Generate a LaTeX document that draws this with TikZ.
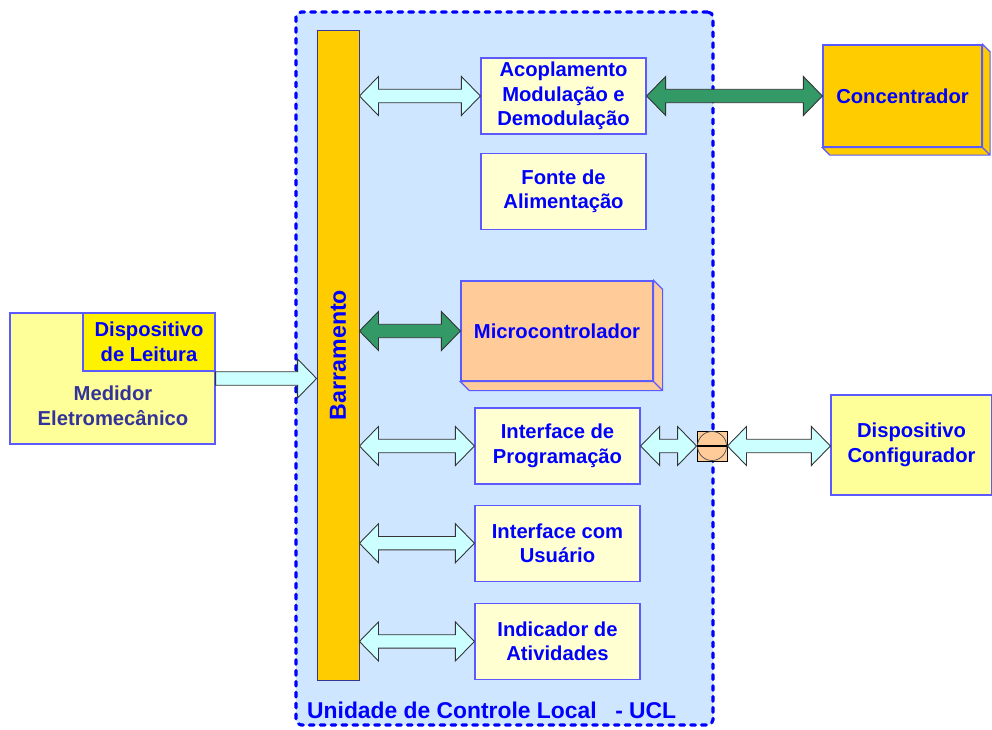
\documentclass[tikz,border=0pt]{standalone}
\usepackage{fontspec}
\setmainfont{Liberation Sans}
\usetikzlibrary{positioning, calc}

\definecolor{uclblue}{RGB}{206,230,255}
\definecolor{edgeblue}{RGB}{90,90,255}
\definecolor{busorange}{RGB}{255,204,0}
\definecolor{boxyellow}{RGB}{255,255,210}
\definecolor{peach}{RGB}{255,204,153}
\definecolor{paleyellow}{RGB}{255,255,153}
\definecolor{lightcyan}{RGB}{204,255,255}
\definecolor{darkgreen}{RGB}{51,153,102}
\definecolor{navytext}{RGB}{51,51,153}

\begin{document}
\begin{tikzpicture}[
	font=\fontsize{11.5}{14}\selectfont\bfseries,
	box/.style={draw=edgeblue, line width=0.7pt, fill=boxyellow, text=blue, align=center,
		minimum width=3.3cm, minimum height=1.52cm, inner sep=0pt},
	ucl/.style={draw=blue, fill=uclblue, line width=1.8pt, line cap=round,
		dash pattern=on 2.7pt off 3.5pt, rounded corners=3pt},
	dbl/.style={draw=black!80, fill=#1, line width=0.5pt, to path={
		let \p1=(\tikztostart), \p2=(\tikztotarget) in
		(\x1,\y1) -- (\x1+0.38cm,\y1+0.39cm) -- (\x1+0.38cm,\y1+0.134cm)
		-- (\x2-0.38cm,\y1+0.134cm) -- (\x2-0.38cm,\y1+0.39cm) -- (\x2,\y1)
		-- (\x2-0.38cm,\y1-0.39cm) -- (\x2-0.38cm,\y1-0.134cm)
		-- (\x1+0.38cm,\y1-0.134cm) -- (\x1+0.38cm,\y1-0.39cm) -- cycle}},
	sgl/.style={draw=black!80, fill=#1, line width=0.5pt, to path={
		let \p1=(\tikztostart), \p2=(\tikztotarget) in
		(\x1,\y1+0.134cm) -- (\x2-0.38cm,\y1+0.134cm) -- (\x2-0.38cm,\y1+0.39cm) -- (\x2,\y1)
		-- (\x2-0.38cm,\y1-0.39cm) -- (\x2-0.38cm,\y1-0.134cm) -- (\x1,\y1-0.134cm) -- cycle}},
]
	\useasboundingbox (0,0) rectangle (19.84,-14.58);

	% local control unit
	\node (UCL) [ucl, minimum width=8.34cm, minimum height=14.26cm] at (10.09,-7.37) {};
	\node (UCLtxt) [text=blue, font=\fontsize{13}{15}\selectfont\bfseries, anchor=base west]
		at (6.02,-14.36) {Unidade de Controle Local\hspace{7pt} - UCL};

	\node (Bus) [draw=edgeblue!60!black, line width=0.5pt, fill=busorange,
		minimum width=0.84cm, minimum height=13cm] at (6.76,-7.10) {};
	\node (BusTxt) [rotate=90, text=blue, font=\fontsize{13.2}{15}\selectfont\bfseries] at (Bus) {Barramento};

	\node (Acop) [box] at (11.27,-1.92) {Acoplamento\\Modulação e\\Demodulação};
	\node (Fonte) [box, below=0.36cm of Acop] {Fonte de\\Alimentação};
	\node (Micro) [box, fill=peach, minimum width=3.84cm, minimum height=2cm] at (11.14,-6.62) {Microcontrolador};
	\node (Prog) [box] at (11.15,-8.92) {Interface de\\Programação};
	\node (Usu) [box, below=0.40cm of Prog] {Interface com\\Usuário};
	\node (Ativ) [box, below=0.42cm of Usu] {Indicador de\\Atividades};

	% outside devices
	\node (Conc) [box, fill=busorange, minimum width=3.18cm, minimum height=2.04cm] at (18.05,-1.92) {Concentrador};
	\node (Conf) [box, fill=paleyellow, minimum width=3.22cm, minimum height=2cm] at (18.23,-8.90) {Dispositivo\\Configurador};
	\node (Med) [box, fill=paleyellow, minimum width=4.1cm, minimum height=2.62cm] at (2.25,-7.57) {};
	\node (MedTxt) [text=navytext, align=center] at (2.26,-8.12) {Medidor\\Eletromecânico};
	\node (Leit) [box, fill=yellow, minimum width=2.64cm, minimum height=1.16cm, anchor=north east]
		at (Med.north east) {Dispositivo\\de Leitura};

	% depth of the 3d boxes
	\draw[draw=edgeblue, line width=0.7pt, fill=peach] (Micro.north east) -- ++(0.18,-0.18)
		-- ([shift={(0.18,-0.18)}]Micro.south east) -- ([shift={(0.18,-0.18)}]Micro.south west)
		-- (Micro.south west) -- (Micro.south east) -- cycle (Micro.south east) -- ++(0.18,-0.18);
	\draw[draw=edgeblue, line width=0.7pt, fill=busorange] (Conc.north east) -- ++(0.15,-0.15)
		-- ([shift={(0.15,-0.15)}]Conc.south east) -- ([shift={(0.15,-0.15)}]Conc.south west)
		-- (Conc.south west) -- (Conc.south east) -- cycle (Conc.south east) -- ++(0.15,-0.15);

	% connectors
	\draw[dbl=lightcyan] (Bus.east |- Acop.west) to (Acop.west);
	\draw[dbl=darkgreen] (Acop.east) to (Conc.west);
	\draw[dbl=darkgreen] (Bus.east |- Micro.west) to (Micro.west);
	\draw[dbl=lightcyan] (Bus.east |- Prog.west) to (Prog.west);
	\draw[dbl=lightcyan] (Bus.east |- Usu.west) to (Usu.west);
	\draw[dbl=lightcyan] (Bus.east |- Ativ.west) to (Ativ.west);
	\draw[sgl=lightcyan] (Med.east) to (Bus.west |- Med.east);

	\node (Conn) [draw=black, line width=0.5pt, fill=peach, minimum size=0.6cm, inner sep=0pt] at (14.24,-8.92) {};
	\draw[fill=peach, draw=black!70, line width=0.4pt] (Conn) circle (0.29);
	\draw[line width=0.8pt] (Conn.west) -- (Conn.east);
	\draw[dbl=lightcyan] (Prog.east) to (Conn.west);
	\draw[dbl=lightcyan] (Conn.east) to (Conf.west);

\end{tikzpicture}
\end{document}
